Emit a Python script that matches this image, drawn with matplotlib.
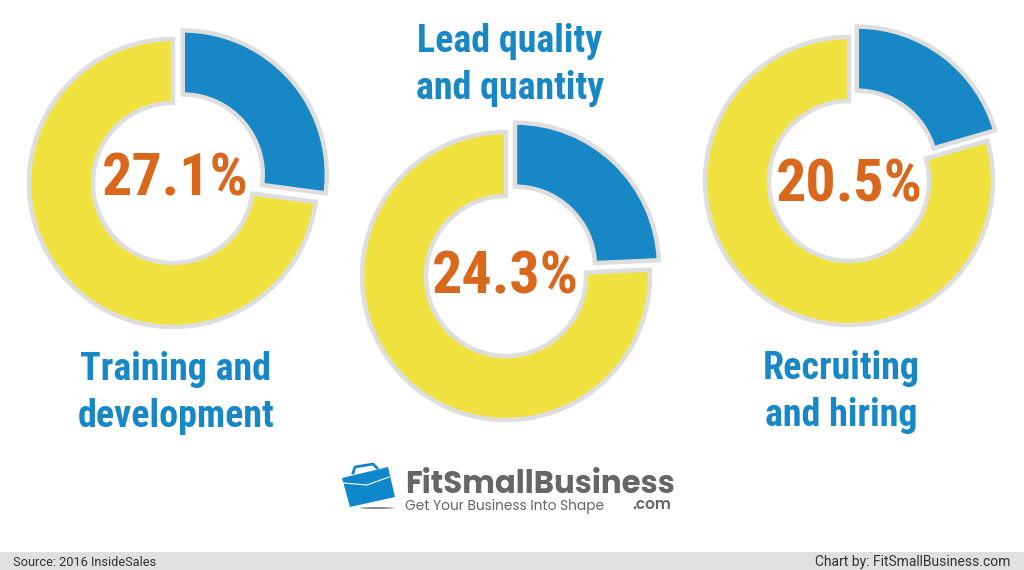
import matplotlib
matplotlib.use('Agg')
import matplotlib.pyplot as plt
from matplotlib.patches import Polygon, Rectangle, Ellipse

# percent values and labels
shares = [27.1, 24.3, 20.5]
pct_labels = ['27.1%', '24.3%', '20.5%']
names = ['Training and\ndevelopment', 'Lead quality\nand quantity', 'Recruiting\nand hiring']

BLUE = '#1787c5'
YELLOW = '#f0e23f'
EDGE = '#dedede'
ORANGE = '#d9681d'
GREY = '#666666'
COND = ['Roboto Condensed', 'Roboto', 'DejaVu Sans']
LOGO = ['Poppins', 'Lato', 'DejaVu Sans']

H = 570


def donut(ax, share, cx, cy):
    # cy is in picture pixels from the top, explode is in data units here
    ax.pie([share, 100 - share], colors=[BLUE, YELLOW], startangle=90, counterclock=False,
           center=(cx, H - cy), radius=144, explode=[13, 0],
           wedgeprops=dict(width=64, edgecolor=EDGE, linewidth=3.2))


def main():
    fig = plt.figure(figsize=(10.24, 5.70), dpi=100)
    ax = fig.add_axes([0, 0, 1, 1])

    centers = [(173, 183), (506, 276), (849, 181)]
    pct_pos = [(175, 180), (505, 277), (849, 185)]
    name_pos = [(176, 393), (510, 65), (841, 392)]

    for i in range(3):
        donut(ax, shares[i], *centers[i])
        ax.text(pct_pos[i][0], H - pct_pos[i][1], pct_labels[i], color=ORANGE, fontsize=43.2,
                fontweight='bold', family=COND, ha='center', va='center')
        ax.text(name_pos[i][0], H - name_pos[i][1], names[i], color=BLUE, fontsize=27.4,
                fontweight='bold', family=COND, ha='center', va='center', linespacing=1.35)

    # footer band
    ax.add_patch(Rectangle((0, 0), 1024, 18, color='#e0e0e0', lw=0))
    ax.text(13, 8, 'Source: 2016 InsideSales', fontsize=9.15, color='#333333', family='Roboto',
            va='center')
    ax.text(1010, 8, 'Chart by: FitSmallBusiness.com', fontsize=10, color='#333333',
            family='Roboto', va='center', ha='right')

    # logo: briefcase
    ax.add_patch(Polygon([(342, H - 478), (388, H - 467), (395, H - 497), (350, H - 507)],
                         color='#0f87cb', lw=0))
    ax.plot([353, 355, 373, 377], [H - 473, H - 467, H - 464, H - 468], color='#0f87cb', lw=2)
    ax.plot([343, 367, 389], [H - 483, H - 485, H - 477], color='white', lw=0.8)
    ax.add_patch(Ellipse((377, H - 508), 34, 2, color='#888888', lw=0))
    ax.text(405, H - 485, 'FitSmallBusiness', fontsize=22.2, fontweight='bold', color=GREY,
            family=LOGO, va='center')
    ax.text(405, H - 507, 'Get Your Business Into Shape', fontsize=9.9, color=GREY,
            family=LOGO, va='center')
    ax.text(671, H - 505, '.com', fontsize=11, fontweight='semibold', color=GREY, family=LOGO,
            va='center', ha='right')

    ax.set_xlim(0, 1024)
    ax.set_ylim(0, H)
    ax.axis('off')
    fig.savefig('out.png', dpi=100, facecolor='white')


if __name__ == '__main__':
    main()
